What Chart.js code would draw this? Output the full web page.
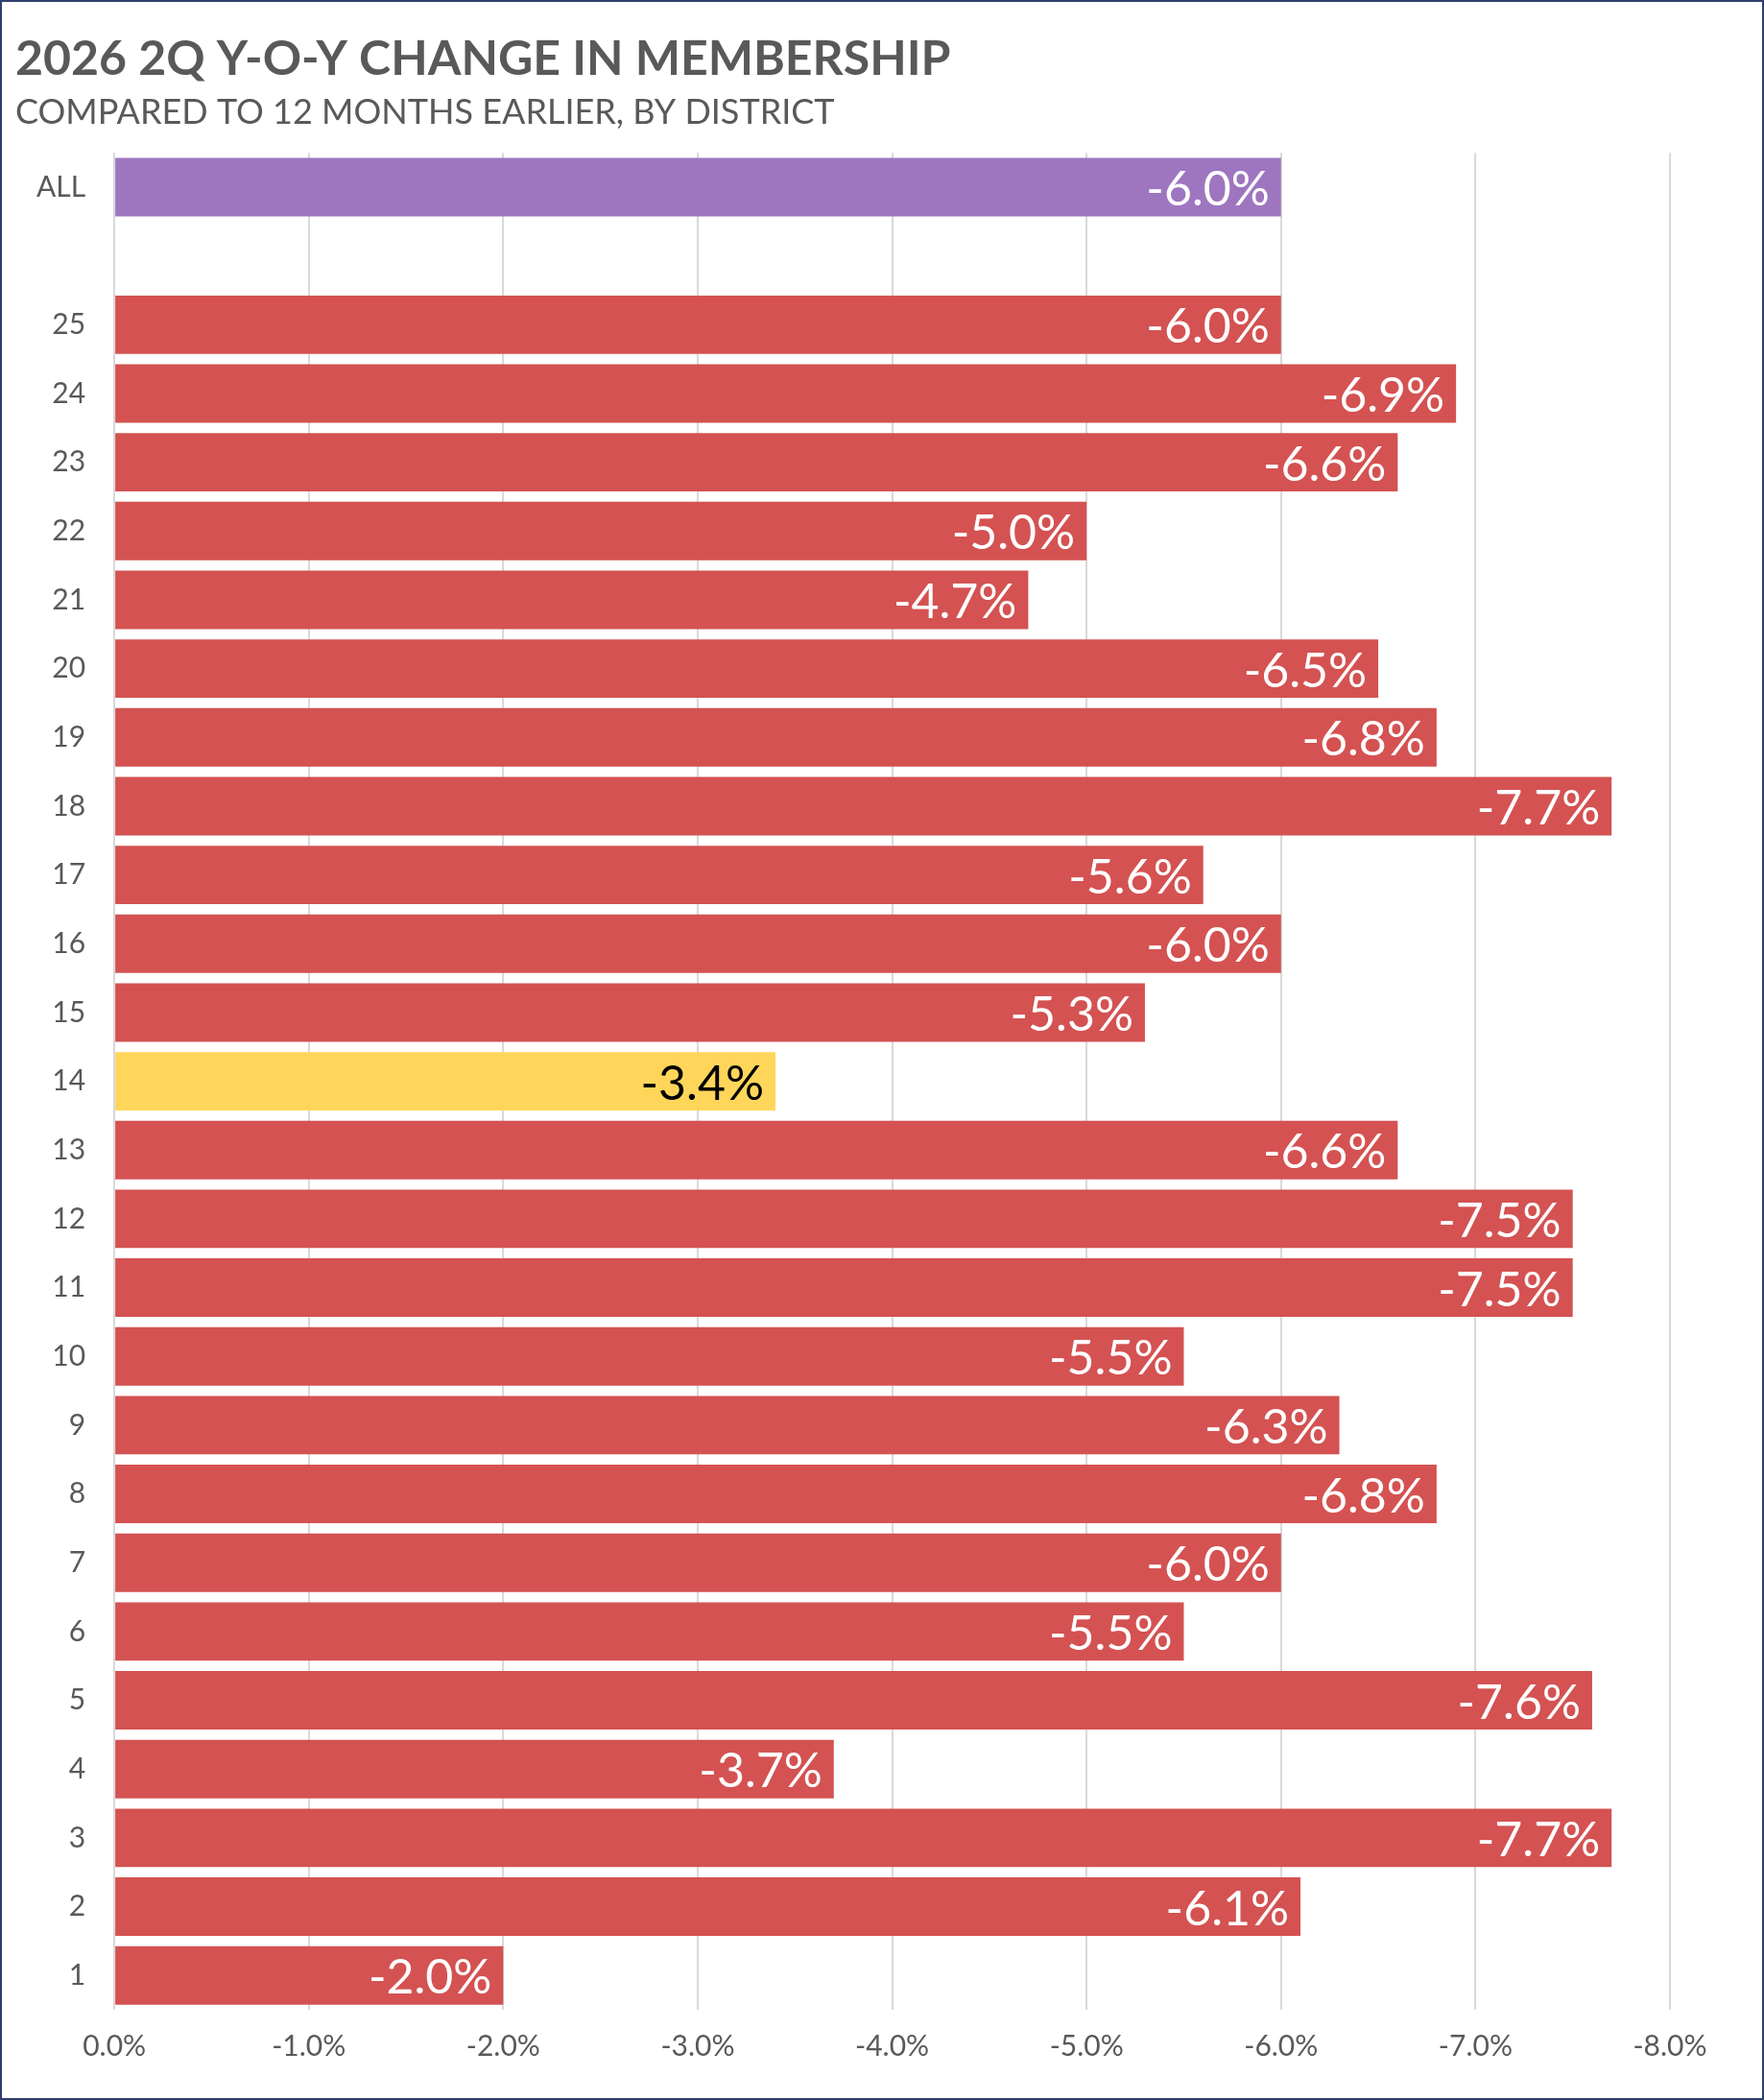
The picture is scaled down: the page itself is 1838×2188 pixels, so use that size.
<!DOCTYPE html>
<html>
<head>
<meta charset="utf-8">
<script src="https://cdn.jsdelivr.net/npm/chart.js@4"></script>
<style>
  html, body { margin: 0; padding: 0; background: #fff; }
  #wrap { width: 1838px; height: 2188px; box-sizing: border-box; border: 2px solid #2F3F6F; }
</style>
</head>
<body>
<div id="wrap"><canvas id="chart" width="1834" height="2184"></canvas></div>
<script>
// ============================
// DATA
// ============================
const districts = ["ALL", "", "25", "24", "23", "22", "21", "20", "19", "18", "17", "16", "15", "14",
    "13", "12", "11", "10", "9", "8", "7", "6", "5", "4", "3", "2", "1"];
const changes = [-6.0, null, -6.0, -6.9, -6.6, -5.0, -4.7, -6.5, -6.8, -7.7, -5.6, -6.0, -5.3, -3.4,
    -6.6, -7.5, -7.5, -5.5, -6.3, -6.8, -6.0, -5.5, -7.6, -3.7, -7.7, -6.1, -2.0];
const xTicks = [0, -1, -2, -3, -4, -5, -6, -7, -8];

const barColors = districts.map(d => d === "ALL" ? "#9E76C0" : d === "14" ? "#FFD65A" : "#D45252");

// ============================
// VALUE LABELS
// ============================
const valueLabels = {
    id: "valueLabels",
    afterDatasetsDraw(chart) {
        const ctx = chart.ctx;
        const meta = chart.getDatasetMeta(0);
        ctx.save();
        ctx.font = "50px Lato, 'Open Sans', sans-serif";
        ctx.textAlign = "right";
        ctx.textBaseline = "middle";
        meta.data.forEach((bar, i) => {
            if (changes[i] === null) return;
            ctx.fillStyle = districts[i] === "14" ? "#000" : "#fff";
            ctx.fillText(changes[i].toFixed(1) + "%", bar.x - 12, bar.y + 3);
        });
        ctx.restore();
    }
};

new Chart(document.getElementById("chart"), {
    type: "bar",
    data: {
        labels: districts,
        datasets: [{
            data: changes,
            backgroundColor: barColors,
            categoryPercentage: 1,
            barPercentage: 0.85
        }]
    },
    options: {
        indexAxis: "y",
        responsive: false,
        animation: false,
        layout: { padding: { left: 14, right: 96, top: 0, bottom: 16 } },
        plugins: {
            legend: { display: false },
            tooltip: { enabled: false },
            title: {
                display: true,
                text: "2026 2Q Y-O-Y CHANGE IN MEMBERSHIP",
                align: "start",
                color: "#595959",
                font: { family: "Lato, 'Open Sans', sans-serif", size: 50 },
                padding: { top: 30, bottom: 4 }
            },
            subtitle: {
                display: true,
                text: "COMPARED TO 12 MONTHS EARLIER, BY DISTRICT",
                align: "start",
                color: "#595959",
                font: { family: "Lato, 'Open Sans', sans-serif", size: 36 },
                padding: { bottom: 20 }
            }
        },
        scales: {
            x: {
                min: -8,
                max: 0,
                reverse: true,
                afterBuildTicks: axis => { axis.ticks = xTicks.map(v => ({ value: v })); },
                ticks: {
                    color: "#595959",
                    font: { family: "Lato, 'Open Sans', sans-serif", size: 30 },
                    padding: 20,
                    callback: v => v.toFixed(1) + "%"
                },
                grid: { color: "#D9D9D9", lineWidth: 2, drawTicks: false },
                border: { display: false }
            },
            y: {
                ticks: {
                    color: "#595959",
                    font: { family: "Lato, 'Open Sans', sans-serif", size: 30 },
                    padding: 22
                },
                grid: { display: false },
                border: { display: false }
            }
        }
    },
    plugins: [valueLabels]
});
</script>
</body>
</html>
